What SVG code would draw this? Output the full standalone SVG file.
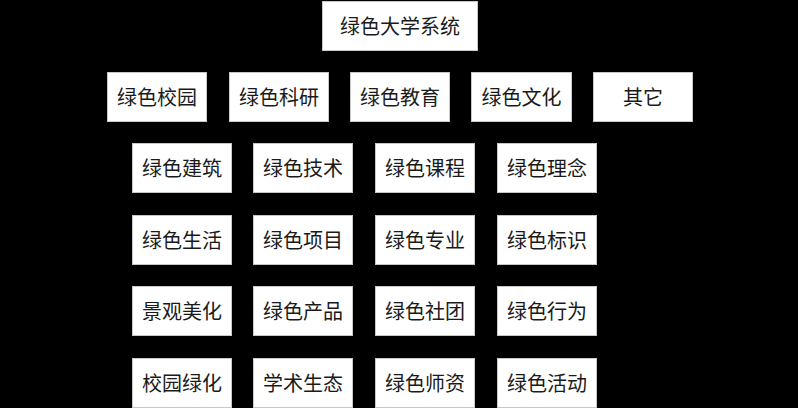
<svg xmlns="http://www.w3.org/2000/svg" width="798" height="408" viewBox="0 0 798 408">
<style>
.box{fill:#ffffff;stroke:#c8c8c8;stroke-width:1}
.lbl{font-family:"Noto Sans CJK SC","Noto Sans CJK TC",sans-serif;font-size:20px;fill:#1a1a1a;text-anchor:middle;dominant-baseline:central}
</style>
<rect x="0" y="0" width="798" height="408" fill="#000000"/>
<g id="n0"><rect class="box" x="322.5" y="1.5" width="155" height="49"/><text class="lbl" x="400" y="25">绿色大学系统</text></g>
<g id="n1"><rect class="box" x="107.5" y="72.5" width="99" height="49"/><text class="lbl" x="157" y="96">绿色校园</text></g>
<g id="n2"><rect class="box" x="229.5" y="72.5" width="99" height="49"/><text class="lbl" x="279" y="96">绿色科研</text></g>
<g id="n3"><rect class="box" x="350.5" y="72.5" width="99" height="49"/><text class="lbl" x="400" y="96">绿色教育</text></g>
<g id="n4"><rect class="box" x="471.5" y="72.5" width="100" height="49"/><text class="lbl" x="521.5" y="96">绿色文化</text></g>
<g id="n5"><rect class="box" x="593.5" y="72.5" width="99" height="49"/><text class="lbl" x="643" y="96">其它</text></g>
<g id="n6"><rect class="box" x="132.5" y="143.5" width="99" height="49"/><text class="lbl" x="182" y="167">绿色建筑</text></g>
<g id="n7"><rect class="box" x="253.5" y="143.5" width="99" height="49"/><text class="lbl" x="303" y="167">绿色技术</text></g>
<g id="n8"><rect class="box" x="375.5" y="143.5" width="99" height="49"/><text class="lbl" x="425" y="167">绿色课程</text></g>
<g id="n9"><rect class="box" x="497.5" y="143.5" width="99" height="49"/><text class="lbl" x="547" y="167">绿色理念</text></g>
<g id="n10"><rect class="box" x="132.5" y="215.5" width="99" height="49"/><text class="lbl" x="182" y="239">绿色生活</text></g>
<g id="n11"><rect class="box" x="253.5" y="215.5" width="99" height="49"/><text class="lbl" x="303" y="239">绿色项目</text></g>
<g id="n12"><rect class="box" x="375.5" y="215.5" width="99" height="49"/><text class="lbl" x="425" y="239">绿色专业</text></g>
<g id="n13"><rect class="box" x="497.5" y="215.5" width="99" height="49"/><text class="lbl" x="547" y="239">绿色标识</text></g>
<g id="n14"><rect class="box" x="132.5" y="286.5" width="99" height="49"/><text class="lbl" x="182" y="310">景观美化</text></g>
<g id="n15"><rect class="box" x="253.5" y="286.5" width="99" height="49"/><text class="lbl" x="303" y="310">绿色产品</text></g>
<g id="n16"><rect class="box" x="375.5" y="286.5" width="99" height="49"/><text class="lbl" x="425" y="310">绿色社团</text></g>
<g id="n17"><rect class="box" x="497.5" y="286.5" width="99" height="49"/><text class="lbl" x="547" y="310">绿色行为</text></g>
<g id="n18"><rect class="box" x="132.5" y="358.5" width="99" height="49"/><text class="lbl" x="182" y="382">校园绿化</text></g>
<g id="n19"><rect class="box" x="253.5" y="358.5" width="99" height="49"/><text class="lbl" x="303" y="382">学术生态</text></g>
<g id="n20"><rect class="box" x="375.5" y="358.5" width="99" height="49"/><text class="lbl" x="425" y="382">绿色师资</text></g>
<g id="n21"><rect class="box" x="497.5" y="358.5" width="99" height="49"/><text class="lbl" x="547" y="382">绿色活动</text></g>
</svg>
